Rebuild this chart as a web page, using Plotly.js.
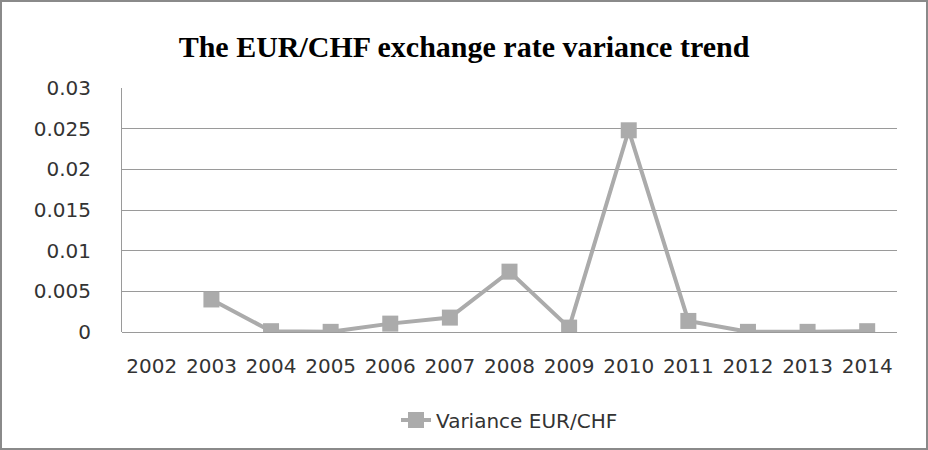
<!DOCTYPE html>
<html>
<head>
<meta charset="utf-8">
<script src="https://cdn.plot.ly/plotly-3.0.1.min.js"></script>
<style>
  html, body { margin: 0; padding: 0; background: #fff; }
  #frame { width: 928px; height: 450px; box-sizing: border-box; border: 2px solid #8a8a8a; }
  #chart { width: 924px; height: 446px; }
</style>
</head>
<body>
<div id="frame"><div id="chart"></div></div>
<script>
const years = ['2002','2003','2004','2005','2006','2007','2008','2009','2010','2011','2012','2013','2014'];
const variance = [null, 0.0040, 0.0001, 0.00002, 0.00103, 0.00177, 0.00742, 0.00054, 0.0248, 0.00136, 0.00002, 0.00002, 0.0001];
const yTicks = [0, 0.005, 0.01, 0.015, 0.02, 0.025, 0.03];
const yTickText = ['0', '0.005', '0.01', '0.015', '0.02', '0.025', '0.03'];
const seriesName = 'Variance EUR/CHF';
const chartTitle = 'The EUR/CHF exchange rate variance trend';

const grey = '#ababab';
const trace = {
  x: years,
  y: variance,
  type: 'scatter',
  mode: 'lines+markers',
  name: seriesName,
  connectgaps: false,
  line: { color: grey, width: 4 },
  marker: { symbol: 'square', size: 16, color: grey }
};

const layout = {
  width: 924,
  height: 446,
  paper_bgcolor: '#ffffff',
  plot_bgcolor: '#ffffff',
  margin: { l: 120, r: 29, t: 86, b: 116, autoexpand: false },
  title: {
    text: '<b>' + chartTitle + '</b>',
    font: { family: '"Liberation Serif", "DejaVu Serif", serif', size: 30, color: '#000' },
    x: 0.5, xanchor: 'center',
    y: 0.9, yref: 'container', yanchor: 'middle'
  },
  showlegend: true,
  legend: {
    orientation: 'h',
    x: 0.5, xanchor: 'center',
    yref: 'container',
    y: 0.063, yanchor: 'middle',
    font: { family: '"DejaVu Sans", sans-serif', size: 20, color: '#333' }
  },
  xaxis: {
    type: 'category',
    categoryorder: 'array',
    categoryarray: years,
    range: [-0.5, years.length - 0.5],
    automargin: false,
    showgrid: false,
    zeroline: false,
    showline: false,
    ticks: '',
    ticklabelstandoff: 20,
    tickfont: { family: '"DejaVu Sans", sans-serif', size: 20, color: '#333' },
    fixedrange: true
  },
  yaxis: {
    range: [0, 0.03],
    automargin: false,
    tickmode: 'array',
    tickvals: yTicks,
    ticktext: yTickText,
    showgrid: true,
    gridcolor: '#9a9a9a',
    gridwidth: 1,
    zeroline: true,
    zerolinecolor: '#9a9a9a',
    zerolinewidth: 1,
    showline: true,
    linecolor: '#9a9a9a',
    linewidth: 1,
    ticks: '',
    ticklabelstandoff: 26,
    tickfont: { family: '"DejaVu Sans", sans-serif', size: 20, color: '#333' },
    fixedrange: true
  }
};

Plotly.newPlot('chart', [trace], layout, { displayModeBar: false, staticPlot: true });
</script>
</body>
</html>
